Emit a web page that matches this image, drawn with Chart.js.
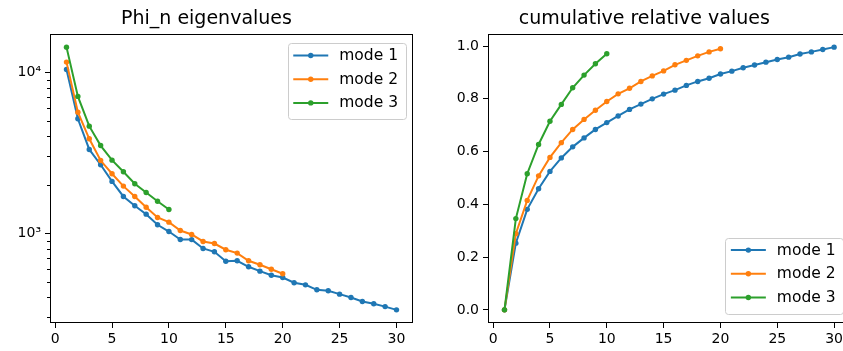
<!DOCTYPE html>
<html>
<head>
<meta charset="utf-8">
<script src="https://cdn.jsdelivr.net/npm/chart.js@4/dist/chart.umd.min.js"></script>
<style>
  body { margin: 0; width: 843px; height: 351px; overflow: hidden; background: #fff; position: relative; }
  #eigWrap { position: absolute; left: 0; top: 0; }
  #cumWrap { position: absolute; left: 438px; top: 0; }
</style>
</head>
<body>
<div id="eigWrap"><canvas id="eigChart" width="463" height="351"></canvas></div>
<div id="cumWrap"><canvas id="cumChart" width="462" height="351"></canvas></div>

<script>
// mode numbers along the x axis
const stepsMode1 = [1, 2, 3, 4, 5, 6, 7, 8, 9, 10, 11, 12, 13, 14, 15, 16, 17, 18, 19, 20, 21, 22, 23, 24, 25, 26, 27, 28, 29, 30];
const stepsMode2 = [1, 2, 3, 4, 5, 6, 7, 8, 9, 10, 11, 12, 13, 14, 15, 16, 17, 18, 19, 20];
const stepsMode3 = [1, 2, 3, 4, 5, 6, 7, 8, 9, 10];
const seriesNames = ["mode 1", "mode 2", "mode 3"];

// Phi_n eigenvalues (log scale)
const eigMode1 = [10480, 5180, 3340, 2685, 2115, 1706, 1493, 1324, 1137, 1033, 922, 920, 811, 773, 676, 680, 624, 586, 553, 535, 497, 482, 449, 443, 422, 402, 380, 368, 353, 337];
const eigMode2 = [11640, 5690, 3890, 2850, 2360, 1977, 1706, 1462, 1263, 1181, 1048, 990, 896, 870, 796, 759, 680, 642, 602, 565];
const eigMode3 = [14420, 7130, 4660, 3530, 2865, 2427, 2047, 1806, 1593, 1416];

// cumulative relative values
const cumMode1 = [0, 0.253, 0.381, 0.459, 0.525, 0.576, 0.618, 0.652, 0.684, 0.710, 0.735, 0.760, 0.780, 0.800, 0.818, 0.833, 0.851, 0.866, 0.878, 0.894, 0.905, 0.918, 0.928, 0.939, 0.949, 0.958, 0.970, 0.978, 0.987, 0.996];
const cumMode2 = [0, 0.289, 0.415, 0.508, 0.578, 0.634, 0.684, 0.722, 0.757, 0.790, 0.819, 0.840, 0.866, 0.887, 0.906, 0.929, 0.946, 0.963, 0.978, 0.990];
const cumMode3 = [0, 0.346, 0.516, 0.627, 0.715, 0.779, 0.842, 0.890, 0.933, 0.971];

// tick labels
const xTickValues = [0, 5, 10, 15, 20, 25, 30];
const eigTickValues = [1000, 10000];
const eigTickLabels = ["10³", "10⁴"];
const eigMinorTicks = [300, 400, 500, 600, 700, 800, 900, 2000, 3000, 4000, 5000, 6000, 7000, 8000, 9000];
const cumTickValues = [0, 0.2, 0.4, 0.6, 0.8, 1.0];
const cumTickLabels = ["0.0", "0.2", "0.4", "0.6", "0.8", "1.0"];

const colors = ["#1f77b4", "#ff7f0e", "#2ca02c"];
const fontName = '"DejaVu Sans", sans-serif';
const tickFont = { family: fontName, size: 14 };

const toPoints = (xs, ys) => xs.map((x, i) => ({ x: x, y: ys[i] }));

const makeDatasets = (rows) => rows.map((row, i) => ({
    label: seriesNames[i],
    data: toPoints(row[0], row[1]),
    borderColor: colors[i],
    backgroundColor: colors[i],
    borderWidth: 2,
    pointRadius: 2.7,
    pointBorderWidth: 0,
    pointBackgroundColor: colors[i],
    tension: 0,
    order: 3 - i
}));

// matplotlib style 5% margins
const pad = (lo, hi) => [lo - 0.05 * (hi - lo), hi + 0.05 * (hi - lo)];
const xRange = pad(1, 30);
const eigAll = eigMode1.concat(eigMode2, eigMode3);
const eigLogRange = pad(Math.log10(Math.min(...eigAll)), Math.log10(Math.max(...eigAll)));
const cumAll = cumMode1.concat(cumMode2, cumMode3);
const cumRange = pad(Math.min(...cumAll), Math.max(...cumAll));

// full box around the plot area
const frame = {
    id: "frame",
    afterDatasetsDraw(chart) {
        const { ctx, chartArea } = chart;
        ctx.save();
        ctx.strokeStyle = "#000";
        ctx.lineWidth = 1;
        const l = Math.round(chartArea.left) + 0.5, t = Math.round(chartArea.top) + 0.5;
        const r = Math.round(chartArea.right) - 0.5, b = Math.round(chartArea.bottom) - 0.5;
        ctx.strokeRect(l, t, r - l, b - t);
        ctx.restore();
    }
};

// legend drawn inside the plot area, like matplotlib
const boxLegend = {
    id: "boxLegend",
    afterDraw(chart, args, opts) {
        const { ctx, chartArea } = chart;
        const fs = opts.fontSize;
        ctx.save();
        ctx.font = fs + "px " + fontName;
        const names = chart.data.datasets.map(d => d.label);
        const textW = Math.max(...names.map(n => ctx.measureText(n).width));
        const w = 5.6 + 35 + 11 + textW + 8;
        const rowH = 23.7;
        const h = 12.5 + rowH * (names.length - 1) + 16.5;
        const x = chartArea.right - 7 - w;
        const y = opts.corner === "upper right" ? chartArea.top + 9 : chartArea.bottom - 9 - h;
        ctx.fillStyle = "rgba(255,255,255,0.8)";
        ctx.strokeStyle = "#cccccc";
        ctx.lineWidth = 1;
        ctx.beginPath();
        ctx.roundRect(Math.round(x) + 0.5, Math.round(y) + 0.5, Math.round(w), Math.round(h), 3);
        ctx.fill();
        ctx.stroke();
        chart.data.datasets.forEach((ds, i) => {
            const cy = y + 12.5 + i * rowH;
            ctx.strokeStyle = ds.borderColor;
            ctx.lineWidth = 2;
            ctx.beginPath();
            ctx.moveTo(x + 5.6, cy);
            ctx.lineTo(x + 40.6, cy);
            ctx.stroke();
            ctx.fillStyle = ds.borderColor;
            ctx.beginPath();
            ctx.arc(x + 23.1, cy, 2.7, 0, Math.PI * 2);
            ctx.fill();
            ctx.fillStyle = "#000";
            ctx.textBaseline = "middle";
            ctx.fillText(ds.label, x + 51.6, cy + 0.5);
        });
        ctx.restore();
    }
};

const xScale = {
    type: "linear",
    min: xRange[0],
    max: xRange[1],
    afterFit: (s) => { s.height = 28; },
    afterBuildTicks: (s) => { s.ticks = xTickValues.map(v => ({ value: v })); },
    ticks: { font: tickFont, color: "#000", padding: 3, autoSkip: false, maxRotation: 0, includeBounds: false },
    grid: { display: true, drawOnChartArea: false, drawTicks: true, tickLength: 5, tickColor: "#000" },
    border: { display: false }
};

const titleOpts = (text) => ({
    display: true,
    text: text,
    color: "#000",
    font: { family: fontName, size: 19, weight: "normal", lineHeight: 1.2 },
    padding: { top: 8, bottom: 3.2 }
});

new Chart(document.getElementById("eigChart"), {
    type: "line",
    data: {
        datasets: makeDatasets([[stepsMode1, eigMode1], [stepsMode2, eigMode2], [stepsMode3, eigMode3]])
    },
    options: {
        responsive: false,
        animation: false,
        layout: { padding: { right: 50 } },
        scales: {
            x: xScale,
            y: {
                type: "logarithmic",
                position: "left",
                weight: 1,
                min: Math.pow(10, eigLogRange[0]),
                max: Math.pow(10, eigLogRange[1]),
                afterFit: (s) => { s.width = 50; },
                afterBuildTicks: (s) => { s.ticks = eigTickValues.map(v => ({ value: v })); },
                ticks: {
                    font: tickFont, color: "#000", padding: 4, autoSkip: false,
                    callback: (v) => eigTickLabels[eigTickValues.indexOf(v)]
                },
                grid: { display: true, drawOnChartArea: false, drawTicks: true, tickLength: 5, tickColor: "#000" },
                border: { display: false }
            },
            yMinor: {
                type: "logarithmic",
                position: "left",
                weight: 0,
                min: Math.pow(10, eigLogRange[0]),
                max: Math.pow(10, eigLogRange[1]),
                afterFit: (s) => { s.width = 0; },
                afterBuildTicks: (s) => { s.ticks = eigMinorTicks.map(v => ({ value: v })); },
                ticks: { display: false, autoSkip: false },
                grid: { display: true, drawOnChartArea: false, drawTicks: true, tickLength: 3, tickColor: "#000" },
                border: { display: false }
            }
        },
        plugins: {
            legend: { display: false },
            tooltip: { enabled: false },
            title: titleOpts("Phi_n eigenvalues"),
            boxLegend: { corner: "upper right", fontSize: 15.5 }
        }
    },
    plugins: [frame, boxLegend]
});

new Chart(document.getElementById("cumChart"), {
    type: "line",
    data: {
        datasets: makeDatasets([[stepsMode1, cumMode1], [stepsMode2, cumMode2], [stepsMode3, cumMode3]])
    },
    options: {
        responsive: false,
        animation: false,
        layout: { padding: { right: 49.4 } },
        scales: {
            x: xScale,
            y: {
                type: "linear",
                position: "left",
                min: cumRange[0],
                max: cumRange[1],
                afterFit: (s) => { s.width = 50; },
                afterBuildTicks: (s) => { s.ticks = cumTickValues.map(v => ({ value: v })); },
                ticks: {
                    font: tickFont, color: "#000", padding: 4, autoSkip: false,
                    callback: (v) => cumTickLabels[cumTickValues.indexOf(v)]
                },
                grid: { display: true, drawOnChartArea: false, drawTicks: true, tickLength: 5, tickColor: "#000" },
                border: { display: false }
            }
        },
        plugins: {
            legend: { display: false },
            tooltip: { enabled: false },
            title: titleOpts("cumulative relative values"),
            boxLegend: { corner: "lower right", fontSize: 15.5 }
        }
    },
    plugins: [frame, boxLegend]
});
</script>
</body>
</html>
